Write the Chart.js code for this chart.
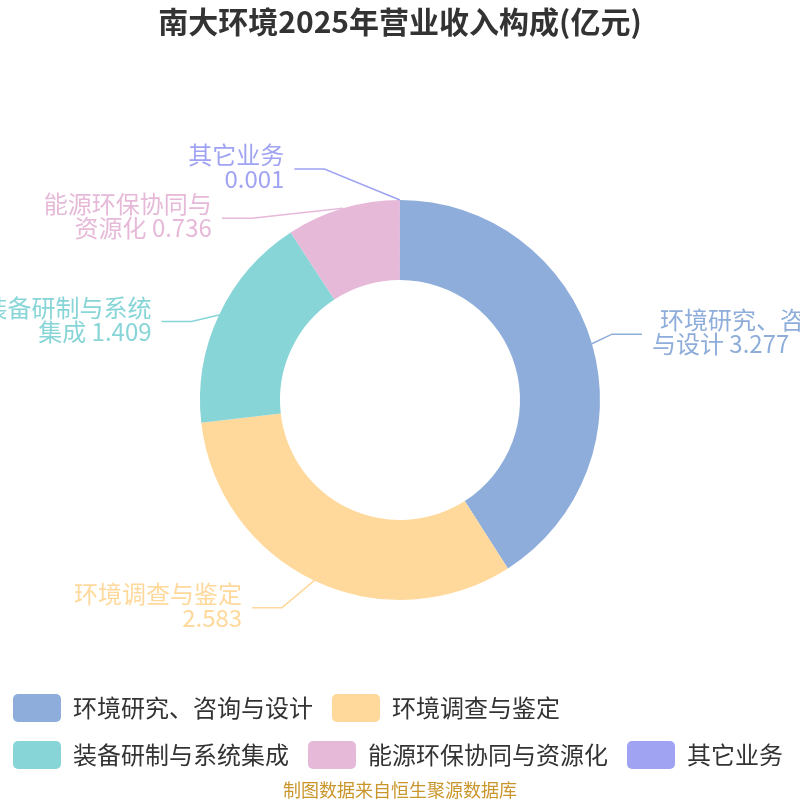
<!DOCTYPE html>
<html>
<head>
<meta charset="utf-8">
<script src="https://cdn.jsdelivr.net/npm/chart.js@4"></script>
<style>
  html, body { margin:0; padding:0; overflow:hidden; background:#fff; }
  #wrap { position:absolute; left:-6px; top:0; }
</style>
</head>
<body>
<div id="wrap"><canvas id="pie" width="812" height="800"></canvas></div>
<script>
// ======= 数据 =======
const categories = ['环境研究、咨询与设计', '环境调查与鉴定', '装备研制与系统集成', '能源环保协同与资源化', '其它业务'];
const values = [3.277, 2.583, 1.409, 0.736, 0.001];
const colors = ['#8EADDA', '#FFD99B', '#88D5D8', '#E6B9D8', '#A0A3F2'];
// label elbow vertical shift (px), keeps labels apart
const labelShift = [-4, 9, 15, 29, -11];

const FONT = '"Noto Sans CJK SC", "Noto Sans", sans-serif';

// split name / value into two lines (7 chars max on first line)
function labelLines(name, val){
  if(name.length > 7) return [name.slice(0,7), name.slice(7) + ' ' + val];
  return [name, String(val)];
}

const outLabels = {
  id: 'outLabels',
  afterDraw(chart){
    const ctx = chart.ctx;
    const meta = chart.getDatasetMeta(0);
    const len1 = 20, len2 = 30, gap = 10, rB = 246;
    ctx.save();
    meta.data.forEach((arc, i)=>{
      const p = arc.getProps(['x','y','startAngle','endAngle','outerRadius'], true);
      const mid = (p.startAngle + p.endAngle) / 2;
      const cos = Math.cos(mid), sin = Math.sin(mid);
      const dir = cos > 0 ? 1 : -1;
      const sx = p.x + p.outerRadius * cos, sy = p.y + p.outerRadius * sin;
      const rA = p.outerRadius + len1;
      const ey = p.y + rA * sin + labelShift[i];
      const dy = ey - p.y;
      const ex = p.x + dir * rA * Math.sqrt(Math.max(0, 1 - dy*dy/(rB*rB)));
      const tx = ex + dir * len2;

      ctx.strokeStyle = colors[i];
      ctx.lineWidth = 1.5;
      ctx.beginPath();
      ctx.moveTo(sx, sy);
      ctx.lineTo(ex, ey);
      ctx.lineTo(tx, ey);
      ctx.stroke();

      ctx.fillStyle = colors[i];
      ctx.font = '24px ' + FONT;
      ctx.textAlign = dir > 0 ? 'left' : 'right';
      ctx.textBaseline = 'middle';
      const lines = labelLines(categories[i], values[i]);
      lines.forEach((ln, k)=>{
        // first line on the right side sits a bit further in
        const indent = (dir > 0 && k === 0) ? 8 : 0;
        ctx.fillText(ln, tx + dir * (gap + indent), ey - 14 + k * 24);
      });
    });
    // 数据来源
    ctx.fillStyle = '#C9962B';
    ctx.font = '18px ' + FONT;
    ctx.textAlign = 'center';
    ctx.textBaseline = 'middle';
    ctx.fillText('制图数据来自恒生聚源数据库', chart.width / 2, 790);
    ctx.restore();
  }
};

new Chart(document.getElementById('pie').getContext('2d'), {
  type: 'doughnut',
  data: {
    labels: categories,
    datasets: [{ data: values, backgroundColor: colors, borderWidth: 0 }]
  },
  options: {
    responsive: false,
    animation: false,
    radius: 200,
    cutout: '60%',
    layout: { padding: { top: 0, bottom: 21, left: 0, right: 0 } },
    plugins: {
      title: {
        display: true,
        text: '南大环境2025年营业收入构成(亿元)',
        color: '#333',
        font: { size: 30, weight: 'bold', family: FONT },
        padding: { top: 4, bottom: 85 }
      },
      legend: {
        position: 'bottom',
        align: 'start',
        labels: {
          boxWidth: 48, boxHeight: 28, padding: 19,
          useBorderRadius: true, borderRadius: 5,
          color: '#333',
          font: { size: 24, family: FONT }
        }
      },
      tooltip: { enabled: false }
    }
  },
  plugins: [outLabels]
});
</script>
</body>
</html>
